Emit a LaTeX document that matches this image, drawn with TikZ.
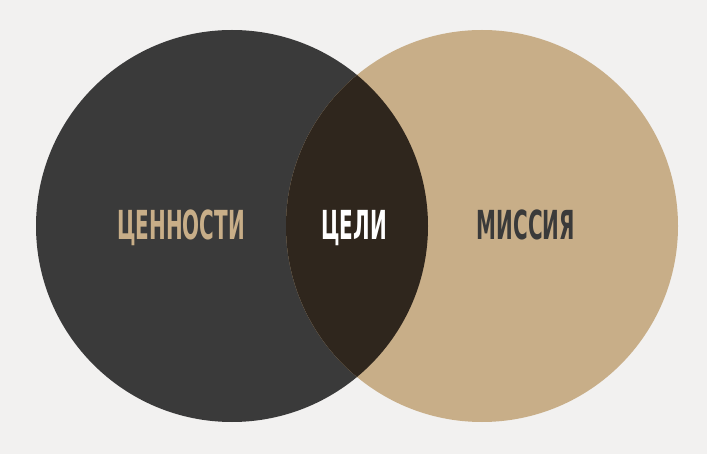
\documentclass[tikz,border=0pt]{standalone}
\usepackage{fontspec}
\usepackage{xcolor}
\newfontfamily\labelfont[FakeStretch=0.5]{DejaVu Sans Bold}
\definecolor{bgpaper}{HTML}{F2F1F0}
\definecolor{coal}{HTML}{3A3A3A}
\definecolor{sand}{HTML}{C8AE88}
\definecolor{umber}{HTML}{2F261D}
\tikzstyle{disc} = [circle,minimum size=392pt,inner sep=0pt,draw=none]
\tikzstyle{word} = [font={\labelfont\fontsize{40}{40}\selectfont},inner sep=0pt,anchor=base]
\begin{document}
\begin{tikzpicture}[x=1pt,y=-1pt]
 \fill [bgpaper] (0,0) rectangle (707,454);
 \useasboundingbox (0,0) rectangle (707,454);
 \node (VA) [disc,fill=coal] at (232,226) {};
 \node (MI) [disc,fill=sand] at (482,226) {};
 \begin{scope}
  \clip (232,226) circle (196);
  \fill [umber] (482,226) circle (196);
 \end{scope}
 \node (VT) [word,text=sand] at (181,240) {ЦЕННОСТИ};
 \node (GT) [word,text=white] at (354,240) {ЦЕЛИ};
 \node (MT) [word,text=coal] at (526,240) {МИССИЯ};
\end{tikzpicture}
\end{document}
